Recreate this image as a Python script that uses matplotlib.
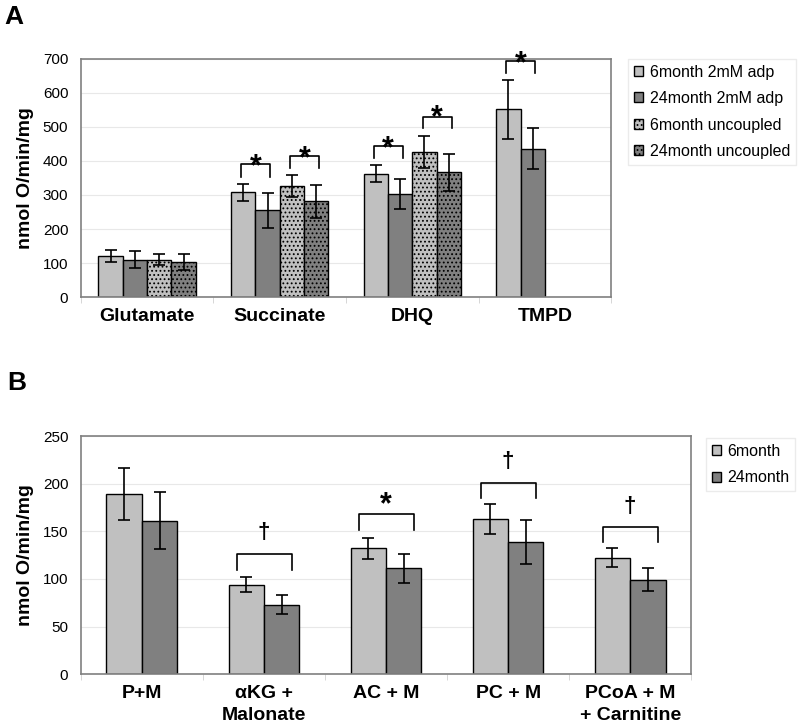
import matplotlib
matplotlib.use("Agg")
import matplotlib.pyplot as plt
import numpy as np
from matplotlib.patches import Patch

plt.rcParams['font.family'] = ['Liberation Sans', 'DejaVu Sans']
plt.rcParams['hatch.linewidth'] = 0.8

# Panel A data
cats_a = ['Glutamate', 'Succinate', 'DHQ', 'TMPD']
series_a = ['6month 2mM adp', '24month 2mM adp', '6month uncoupled', '24month uncoupled']
adp6 = [120, 308, 363, 552]
adp6_err = [18, 25, 26, 87]
adp24 = [110, 255, 303, 436]
adp24_err = [24, 52, 45, 60]
unc6 = [110, 326, 426, np.nan]
unc6_err = [16, 32, 48, np.nan]
unc24 = [103, 281, 367, np.nan]
unc24_err = [24, 48, 55, np.nan]

# significance brackets A: (category, bar i, bar j, bracket top, leg bottom, star centre)
sig_a = [(1, 0, 1, 390, 354, 409), (1, 2, 3, 415, 379, 435),
         (2, 0, 1, 445, 409, 464), (2, 2, 3, 530, 497, 553),
         (3, 0, 1, 694, 659, 714)]

# Panel B data
cats_b = ['P+M', 'αKG +\nMalonate', 'AC + M', 'PC + M', 'PCoA + M\n+ Carnitine']
series_b = ['6month', '24month']
m6 = [189, 94, 132, 163, 122]
m6_err = [27, 8, 11, 16, 10]
m24 = [161, 73, 111, 139, 99]
m24_err = [30, 10, 15, 23, 12]

# significance brackets B: (category, bracket top, leg bottom, mark, mark centre)
sig_b = [(1, 125.7, 109, '†', 149), (2, 167.7, 151, '*', 188),
         (3, 201, 185, '†', 223), (4, 155, 139, '†', 176)]

light = '#c0c0c0'
dark = '#808080'
spine_col = '#808080'

fig = plt.figure(figsize=(8, 7.28), dpi=100)
ax_a = fig.add_axes([0.101, 0.592, 0.663, 0.327])
ax_b = fig.add_axes([0.101, 0.074, 0.763, 0.327])


def style_axis(ax, ncat, labels, ymax, ystep):
    ax.set_xlim(-0.5, ncat - 0.5)
    ax.set_ylim(0, ymax)
    ax.set_yticks(np.arange(0, ymax + 1, ystep))
    ax.set_xticks(np.arange(ncat))
    ax.set_xticklabels(labels, fontsize=14, fontweight='bold', linespacing=1.35)
    ax.set_xticks(np.arange(ncat + 1) - 0.5, minor=True)
    ax.tick_params(axis='x', which='major', length=0, pad=8)
    ax.tick_params(axis='x', which='minor', length=4, color='#d0d0d0')
    ax.tick_params(axis='y', length=0, pad=9, labelsize=11)
    ax.grid(axis='y', color='#e8e8e8', linewidth=0.8)
    ax.set_axisbelow(True)
    for s in ax.spines.values():
        s.set_color(spine_col)
        s.set_linewidth(1.2)
    ax.set_ylabel('nmol O/min/mg', fontsize=14, fontweight='bold')


def make_legend(handles, anchor):
    leg = fig.legend(handles=handles, loc='upper left', bbox_to_anchor=anchor,
                     fontsize=11.5, frameon=True, fancybox=False, handlelength=0.6,
                     handleheight=0.6, handletextpad=0.4, labelspacing=0.72,
                     borderpad=0.35, borderaxespad=0)
    leg.get_frame().set_edgecolor('#e6e6e6')
    return leg


# ---- Panel A ----
x = np.arange(len(cats_a))
w = 0.184
offs = np.array([-1.5, -0.5, 0.5, 1.5]) * w
vals = [adp6, adp24, unc6, unc24]
errs = [adp6_err, adp24_err, unc6_err, unc24_err]
fcs = [light, dark, light, dark]
hatches = [None, None, '....', '....']
for i in range(4):
    ax_a.bar(x + offs[i], vals[i], w, color=fcs[i], edgecolor='black',
             linewidth=1, hatch=hatches[i], label=series_a[i], zorder=2)
    ax_a.errorbar(x + offs[i], vals[i], yerr=errs[i], fmt='none', ecolor='black',
                  elinewidth=1.2, capsize=4.5, capthick=1.2, zorder=3)
style_axis(ax_a, len(cats_a), cats_a, 700, 100)
ax_a.yaxis.set_label_coords(-0.088, 0.5)

for c, i, j, top, leg, star in sig_a:
    x0 = c + offs[i] - 0.015
    x1 = c + offs[j] + 0.02
    ax_a.plot([x0, x0, x1, x1], [leg, top, top, leg], color='black', lw=1.2,
              clip_on=False, zorder=4)
    ax_a.annotate('*', xy=((x0 + x1) / 2, star), xytext=(0, -7),
                  textcoords='offset points', ha='center', va='center',
                  fontsize=22, fontweight='bold', annotation_clip=False)

handles_a = [Patch(facecolor=fcs[i], edgecolor='black', hatch=hatches[i], label=series_a[i])
             for i in range(4)]
make_legend(handles_a, (0.785, 0.919))

# ---- Panel B ----
xb = np.arange(len(cats_b))
wb = 0.29
ax_b.bar(xb - wb / 2, m6, wb, color=light, edgecolor='black', linewidth=1, zorder=2)
ax_b.bar(xb + wb / 2, m24, wb, color=dark, edgecolor='black', linewidth=1, zorder=2)
ax_b.errorbar(xb - wb / 2, m6, yerr=m6_err, fmt='none', ecolor='black',
              elinewidth=1.2, capsize=4, capthick=1.2, zorder=3)
ax_b.errorbar(xb + wb / 2, m24, yerr=m24_err, fmt='none', ecolor='black',
              elinewidth=1.2, capsize=4, capthick=1.2, zorder=3)
style_axis(ax_b, len(cats_b), cats_b, 250, 50)
ax_b.yaxis.set_label_coords(-0.077, 0.5)

for c, top, leg, mark, mc in sig_b:
    x0 = c - 0.222
    x1 = c + 0.228
    ax_b.plot([x0, x0, x1, x1], [leg, top, top, leg], color='black', lw=1.2, zorder=4)
    if mark == '*':
        ax_b.annotate(mark, xy=(c, mc), xytext=(0, -7), textcoords='offset points',
                      ha='center', va='center', fontsize=22, fontweight='bold')
    else:
        ax_b.text(c, mc, mark, ha='center', va='center', fontsize=16, fontweight='bold')

handles_b = [Patch(facecolor=light, edgecolor='black', label=series_b[0]),
             Patch(facecolor=dark, edgecolor='black', label=series_b[1])]
make_legend(handles_b, (0.8825, 0.398))

fig.text(0.006, 0.993, 'A', fontsize=19, fontweight='bold', va='top', ha='left')
fig.text(0.009, 0.49, 'B', fontsize=19, fontweight='bold', va='top', ha='left')

fig.savefig('out.png', dpi=100)
